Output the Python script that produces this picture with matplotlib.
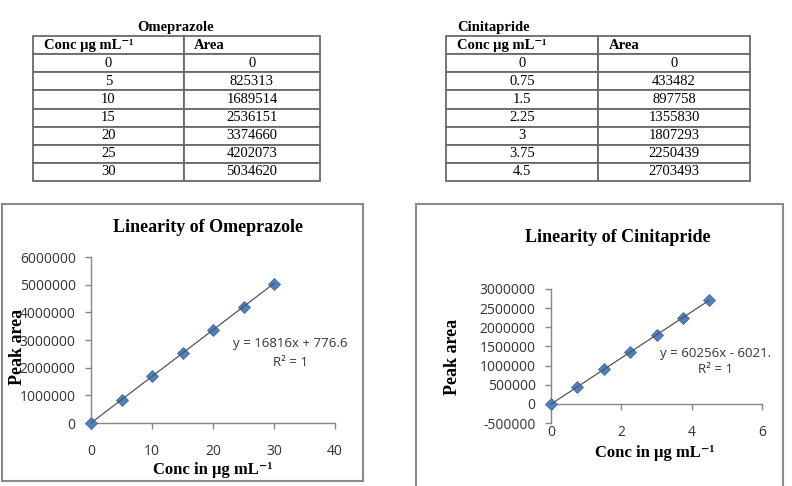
import numpy as np
import matplotlib
matplotlib.use("Agg")
import matplotlib.pyplot as plt
from matplotlib.table import Table
from matplotlib.patches import Rectangle

# ---------------- data ----------------
ome_conc = [0, 5, 10, 15, 20, 25, 30]
ome_area = [0, 825313, 1689514, 2536151, 3374660, 4202073, 5034620]
cin_conc = [0, 0.75, 1.5, 2.25, 3, 3.75, 4.5]
cin_area = [0, 433482, 897758, 1355830, 1807293, 2250439, 2703493]
ome_conc_lbl = ["0", "5", "10", "15", "20", "25", "30"]
cin_conc_lbl = ["0", "0.75", "1.5", "2.25", "3", "3.75", "4.5"]
header = ["Conc µg mL⁻¹", "Area"]
ome_eq = ["y = 16816x + 776.6", "R² = 1"]
cin_eq = ["y = 60256x - 6021.", "R² = 1"]
ome_yticks = [0, 1000000, 2000000, 3000000, 4000000, 5000000, 6000000]
ome_xticks = [0, 10, 20, 30, 40]
cin_yticks = [-500000, 0, 500000, 1000000, 1500000, 2000000, 2500000, 3000000]
cin_xticks = [0, 2, 4, 6]

W, H = 792, 486
fig = plt.figure(figsize=(W / 100, H / 100), dpi=100)

SERIF = ["Liberation Serif", "DejaVu Serif"]
SANS = ["Open Sans", "DejaVu Sans"]
EDGE = "#6a6a6a"


def fx(px):
    return px / W


def fy(py):
    return 1 - py / H


def axes_px(x0, x1, y0, y1):
    # y0 top, y1 bottom in pixels
    return [fx(x0), fy(y1), (x1 - x0) / W, (y1 - y0) / H]


# ---------------- tables ----------------
def draw_table(x0, x1, xdiv, y0, y1, conc_lbl, area):
    ax = fig.add_axes(axes_px(x0, x1, y0, y1))
    ax.set_axis_off()
    tb = Table(ax, bbox=[0, 0, 1, 1])
    w0 = (xdiv - x0) / (x1 - x0)
    w1 = 1 - w0
    nrows = len(conc_lbl) + 1
    h = 1 / nrows
    for c, txt in enumerate(header):
        cell = tb.add_cell(0, c, width=[w0, w1][c], height=h, text=txt, loc="left")
        cell.PAD = 0.07
        cell.set_edgecolor(EDGE)
        cell.set_linewidth(1.3)
        cell.get_text().set_fontfamily(SERIF)
        cell.get_text().set_fontweight("bold")
        cell.get_text().set_fontsize(10.5)
    for r in range(len(conc_lbl)):
        vals = [conc_lbl[r], str(area[r])]
        for c in range(2):
            cell = tb.add_cell(r + 1, c, width=[w0, w1][c], height=h, text=vals[c], loc="center")
            cell.set_edgecolor(EDGE)
            cell.set_linewidth(1.3)
            cell.get_text().set_fontfamily(SERIF)
            cell.get_text().set_fontsize(10.5)
    tb.auto_set_font_size(False)
    ax.add_table(tb)


draw_table(33, 320, 184, 36, 181, ome_conc_lbl, ome_area)
draw_table(446, 750, 598, 36, 181, cin_conc_lbl, cin_area)
fig.text(fx(176), fy(27), "Omeprazole", ha="center", va="center",
         family=SERIF, weight="bold", fontsize=10.5)
fig.text(fx(457), fy(27), "Cinitapride", ha="left", va="center",
         family=SERIF, weight="bold", fontsize=10.5)

# ---------------- chart frames ----------------
fig.add_artist(Rectangle((fx(2), fy(481)), (363 - 2) / W, (481 - 204) / H,
                         transform=fig.transFigure, fill=False,
                         edgecolor="#8a8a8a", linewidth=1.5))
fig.add_artist(Rectangle((fx(416), fy(500)), (783 - 416) / W, (500 - 204) / H,
                         transform=fig.transFigure, fill=False,
                         edgecolor="#8a8a8a", linewidth=1.5))

MCOL = "#4F81BD"
SPINE = "#868686"


def style_axes(ax):
    for s in ["top", "right"]:
        ax.spines[s].set_visible(False)
    for s in ["left", "bottom"]:
        ax.spines[s].set_color(SPINE)
        ax.spines[s].set_linewidth(1.0)
    ax.tick_params(direction="out", length=4, width=1, color=SPINE,
                   labelcolor="#333333", labelsize=10)
    ax.tick_params(axis="x", pad=11)
    ax.tick_params(axis="y", pad=7)
    for lab in ax.get_xticklabels() + ax.get_yticklabels():
        lab.set_fontfamily(SANS)


def plot_series(ax, x, y):
    x = np.asarray(x, float)
    y = np.asarray(y, float)
    m, b = np.polyfit(x, y, 1)
    xs = np.array([x.min(), x.max()])
    ax.plot(x, y, linestyle="none", marker="D", markersize=6,
            markerfacecolor=MCOL, markeredgecolor="#3D6FA8", markeredgewidth=0.6,
            zorder=3, clip_on=False)
    ax.plot(xs, m * xs + b, color="#555555", linewidth=0.9, zorder=4, clip_on=False)


# Chart 1 : Omeprazole
ax1 = fig.add_axes(axes_px(91, 335, 257, 423))
plot_series(ax1, ome_conc, ome_area)
ax1.set_xlim(0, 40)
ax1.set_ylim(0, 6000000)
ax1.set_xticks(ome_xticks)
ax1.set_yticks(ome_yticks)
ax1.set_yticklabels([str(v) for v in ome_yticks])
ax1.set_xticklabels([str(v) for v in ome_xticks])
style_axes(ax1)
ax1.set_xlabel("Conc in µg mL⁻¹", family=SERIF, weight="bold", fontsize=12)
ax1.xaxis.set_label_coords(0.5, -0.283)
ax1.xaxis.label.set_va("center")
ax1.set_ylabel("Peak area", family=SERIF, weight="bold", fontsize=13)
ax1.yaxis.set_label_coords(-0.303, 0.458)
ax1.yaxis.label.set_va("center")
ax1.text(0.816, 0.476, ome_eq[0], transform=ax1.transAxes, ha="center", va="center",
         family=SANS, fontsize=9.5, color="#333333")
ax1.text(0.816, 0.367, ome_eq[1], transform=ax1.transAxes, ha="center", va="center",
         family=SANS, fontsize=9.5, color="#333333")
fig.text(fx(208), fy(227), "Linearity of Omeprazole", ha="center", va="center",
         family=SERIF, weight="bold", fontsize=13)

# Chart 2 : Cinitapride
ax2 = fig.add_axes(axes_px(551, 762, 289, 423))
plot_series(ax2, cin_conc, cin_area)
ax2.set_xlim(0, 6)
ax2.set_ylim(-500000, 3000000)
ax2.set_xticks(cin_xticks)
ax2.set_yticks(cin_yticks)
ax2.set_yticklabels([str(v) for v in cin_yticks])
ax2.set_xticklabels([str(v) for v in cin_xticks])
ax2.spines["bottom"].set_position(("data", 0))
style_axes(ax2)
ax2.set_xlabel("Conc in µg mL⁻¹", family=SERIF, weight="bold", fontsize=12)
ax2.xaxis.set_label_coords(0.493, -0.224)
ax2.xaxis.label.set_va("center")
ax2.set_ylabel("Peak area", family=SERIF, weight="bold", fontsize=13)
ax2.yaxis.set_label_coords(-0.465, 0.4925)
ax2.yaxis.label.set_va("center")
ax2.text(0.78, 0.522, cin_eq[0], transform=ax2.transAxes, ha="center", va="center",
         family=SANS, fontsize=9.5, color="#333333")
ax2.text(0.78, 0.396, cin_eq[1], transform=ax2.transAxes, ha="center", va="center",
         family=SANS, fontsize=9.5, color="#333333")
fig.text(fx(618), fy(237), "Linearity of Cinitapride", ha="center", va="center",
         family=SERIF, weight="bold", fontsize=13)

fig.savefig("out.png", dpi=100)
